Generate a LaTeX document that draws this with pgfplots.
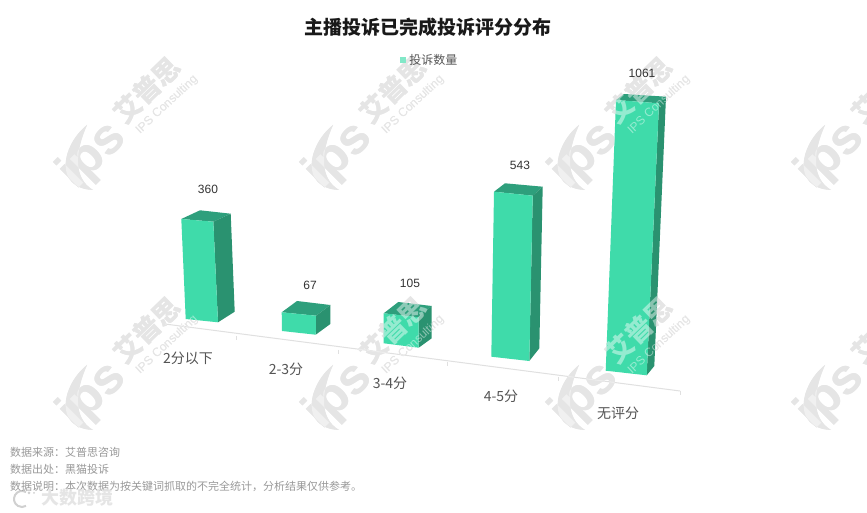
\documentclass[border=0pt]{standalone}
\usepackage{fontspec}
\usepackage{pgfplots}
\pgfplotsset{compat=1.18}
\usepackage{pgfplotstable}
\setmainfont{Noto Sans CJK SC}
\newfontfamily\latinf{Liberation Sans}
\definecolor{barfront}{HTML}{3FDBAA}
\definecolor{barside}{HTML}{2A9270}
\definecolor{bartop}{HTML}{2E9F7C}
\definecolor{axisl}{HTML}{E0E0E0}
\definecolor{wmgrey}{HTML}{D0D0D0}
\definecolor{labelc}{HTML}{555555}
\definecolor{valuec}{HTML}{333333}
\definecolor{footc}{HTML}{999999}
\newcommand\fs[1]{\fontsize{#1pt}{#1pt}\selectfont}
\newcommand\watermark[3]{%
  \begin{scope}[shift={(#1,513-#2)},#3]
    \node[rotate=45,font={\latinf\bfseries\fs{50}}] at (-2,4) {ips};
    \fill (-8,35) .. controls (-33,15) and (-42,-28) .. (-2,-30)
          .. controls (-22,-18) and (-20,8) .. cycle;
    \node[rotate=44,font={\bfseries\fs{27}}] at (52,70) {艾普思};
    \node[rotate=43,font={\latinf\fs{12}}] at (72,55) {IPS Consulting};
  \end{scope}}
\pgfplotstableread{
x y value
208 189 360
310 285 67
410 283 105
520 165 543
642 73 1061
}\valuetable
\pgfplotsset{pixelaxis/.style={
  at={(0,0)},anchor=south west,
  width=867pt,height=513pt,scale only axis,
  xmin=0,xmax=867,ymin=0,ymax=513,y dir=reverse,
  hide axis,clip=false}}
\begin{document}
\begin{tikzpicture}[x=1pt,y=1pt]
\useasboundingbox (0,0) rectangle (867,513);
\fill[white] (0,0) rectangle (867,513);
\clip (0,0) rectangle (867,513);
% watermark beneath the bars
\foreach \wx in {95,341,587,833}{\foreach \wy in {160,400}{
  \watermark{\wx}{\wy}{wmgrey,text=wmgrey,fill=wmgrey}}}
\begin{axis}[pixelaxis]
% axis line and ticks
\addplot[axisl,line width=1pt,forget plot] coordinates {(165,324)(680,391)};
\addplot[axisl,line width=1pt,forget plot] coordinates {(236,336)(236,340)};
\addplot[axisl,line width=1pt,forget plot] coordinates {(338,350)(338,354)};
\addplot[axisl,line width=1pt,forget plot] coordinates {(447,362)(447,366)};
\addplot[axisl,line width=1pt,forget plot] coordinates {(558,377)(558,381)};
\addplot[axisl,line width=1pt,forget plot] coordinates {(680,391)(680,395)};
% bar 1: 360
\addplot[fill=bartop,draw=none,forget plot] coordinates {(181.3,219)(213.3,221.7)(230.7,213.7)(200,210.3)} --cycle;
\addplot[fill=barside,draw=none,forget plot] coordinates {(213.3,221.7)(230.7,213.7)(234.7,311.7)(218,322.3)} --cycle;
\addplot[fill=barfront,draw=none,forget plot] coordinates {(181.3,219)(213.3,221.7)(218,322.3)(185.7,319)} --cycle;
% bar 2: 67
\addplot[fill=bartop,draw=none,forget plot] coordinates {(281.7,312.3)(316,315.7)(330.3,305)(297,301)} --cycle;
\addplot[fill=barside,draw=none,forget plot] coordinates {(316,315.7)(330.3,305)(330.3,324)(315.7,334.7)} --cycle;
\addplot[fill=barfront,draw=none,forget plot] coordinates {(281.7,312.3)(316,315.7)(315.7,334.7)(282,331)} --cycle;
% bar 3: 105
\addplot[fill=bartop,draw=none,forget plot] coordinates {(383.7,313.3)(418.7,317.3)(431.7,306)(398.3,302)} --cycle;
\addplot[fill=barside,draw=none,forget plot] coordinates {(418.7,317.3)(431.7,306)(431.7,338.3)(418.7,347.7)} --cycle;
\addplot[fill=barfront,draw=none,forget plot] coordinates {(383.7,313.3)(418.7,317.3)(418.7,347.7)(383.7,343.3)} --cycle;
% bar 4: 543
\addplot[fill=bartop,draw=none,forget plot] coordinates {(494,191.7)(532.7,195.7)(542.7,186.7)(505,183.3)} --cycle;
\addplot[fill=barside,draw=none,forget plot] coordinates {(532.7,195.7)(542.7,186.7)(539.3,348.3)(529.3,361)} --cycle;
\addplot[fill=barfront,draw=none,forget plot] coordinates {(494,191.7)(532.7,195.7)(529.3,361)(491.3,356.7)} --cycle;
% bar 5: 1061
\addplot[fill=bartop,draw=none,forget plot] coordinates {(616,100)(659,103.3)(666,96.7)(624,94)} --cycle;
\addplot[fill=barside,draw=none,forget plot] coordinates {(659,103.3)(666,96.7)(654.3,366)(646.7,375.3)} --cycle;
\addplot[fill=barfront,draw=none,forget plot] coordinates {(616,100)(659,103.3)(646.7,375.3)(605.7,370.7)} --cycle;
\end{axis}
% watermark lightening the bars beneath it
\foreach \wx in {95,341,587,833}{\foreach \wy in {160,400}{
  \watermark{\wx}{\wy}{white,text=white,fill=white,opacity=0.45}}}
% source stamp
\draw[wmgrey,line width=2pt] (22,14) ++(60:8) arc (60:300:8);
\fill[wmgrey] (29,20) circle (1.5) (34,20) circle (1);
\begin{axis}[pixelaxis,
  legend style={at={(430/867,1-60/513)},anchor=center,draw=none,fill=none,
    font=\fs{12},text=labelc,inner sep=0pt,outer sep=0pt},
  legend image code/.code={\fill[#1] (0pt,-3pt) rectangle (5.6pt,3pt); \path (0pt,0pt) -- (7pt,0pt);},
]
\addlegendimage{fill=barfront!65!white,draw=none}
\addlegendentry{投诉数量}
% value labels
\addplot[draw=none,mark=none,forget plot,point meta=explicit symbolic,
  nodes near coords,
  every node near coord/.append style={anchor=center,inner sep=0pt,text=valuec,font=\latinf\fs{12}}]
  table[x=x,y=y,meta=value] {\valuetable};
% category labels
\node[font=\fs{14},text=labelc] at (axis cs:188,358) {2分以下};
\node[font=\fs{14},text=labelc] at (axis cs:286,369) {2-3分};
\node[font=\fs{14},text=labelc] at (axis cs:390,383) {3-4分};
\node[font=\fs{14},text=labelc] at (axis cs:501,396) {4-5分};
\node[font=\fs{14},text=labelc] at (axis cs:618,413) {无评分};
% title
\node[font=\bfseries\fs{19},text=black!90] at (axis cs:428,27) {主播投诉已完成投诉评分分布};
% footer
\node[anchor=west,inner sep=0pt,font=\fs{11},text=footc] at (axis cs:10,452) {数据来源：艾普思咨询};
\node[anchor=west,inner sep=0pt,font=\fs{11},text=footc] at (axis cs:10,469) {数据出处：黑猫投诉};
\node[anchor=west,inner sep=0pt,font=\fs{11},text=footc] at (axis cs:10,486) {数据说明：本次数据为按关键词抓取的不完全统计，分析结果仅供参考。};
\node[font=\bfseries\fs{18},text=wmgrey!60!white,opacity=0.9] at (axis cs:77,498) {大数跨境};
\end{axis}
\end{tikzpicture}
\end{document}
